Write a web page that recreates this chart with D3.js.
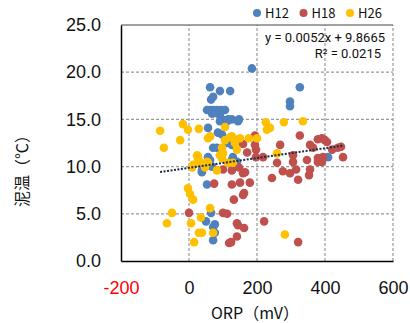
<!DOCTYPE html>
<html>
<head>
<meta charset="utf-8">
<script src="https://cdn.jsdelivr.net/npm/d3@7"></script>
<style>
  body { margin: 0; background: #fff; }
  svg { font-family: "Noto Sans CJK JP", "Noto Sans", sans-serif; }
</style>
</head>
<body>
<div id="chart"></div>
<script>
// ORP (mV) / mud temperature (°C) pairs per survey year
const seriesNames = ['H12', 'H18', 'H26'];
const seriesColors = ['#4f81bd', '#c0504d', '#ffc000'];

const h12 = [
  [185, 20.4], [62, 18.4], [91, 18.0], [121, 18.0], [71, 17.4], [65, 17.1],
  [326, 18.4], [297, 16.9], [297, 16.4],
  [53, 16.0], [62, 16.0], [71, 16.0], [82, 16.0], [94, 16.0], [106, 16.0],
  [91, 15.5], [68, 15.6], [85, 15.6], [97, 15.0], [115, 15.0], [126, 15.0], [147, 15.0],
  [56, 14.1], [91, 14.8], [112, 14.8], [144, 14.8], [85, 13.6], [97, 13.4],
  [112, 12.5], [141, 12.8], [135, 12.5], [126, 12.3], [71, 12.0], [82, 12.0],
  [56, 11.0], [62, 10.7], [129, 11.0], [141, 10.5], [126, 10.7],
  [38, 9.6], [38, 9.4], [68, 10.0], [53, 8.1],
  [65, 5.1], [50, 4.2], [76, 3.9], [71, 3.6], [76, 3.0], [71, 2.2],
  [409, 11.0]
];

const h18 = [
  [194, 13.3], [326, 13.3], [159, 12.4], [194, 12.3], [268, 12.3], [356, 12.3],
  [365, 12.0], [379, 12.9], [391, 13.0], [400, 12.8], [406, 12.6], [421, 11.8],
  [438, 12.0], [447, 12.1], [171, 11.5], [197, 11.8], [218, 11.0], [197, 11.0],
  [306, 11.2], [306, 10.5], [347, 10.7], [379, 10.9], [394, 11.0], [391, 10.5],
  [379, 10.5], [453, 11.0], [259, 10.4], [165, 9.4], [159, 9.3], [276, 9.5],
  [297, 9.3], [315, 9.7], [356, 9.7], [353, 9.1], [321, 8.6], [244, 8.8],
  [126, 8.1], [150, 8.3], [179, 8.3], [74, 8.2], [100, 9.7], [126, 9.6],
  [147, 9.9], [162, 7.2], [159, 7.0], [132, 6.5], [100, 5.1], [112, 5.0],
  [0, 5.1], [141, 4.0], [144, 3.8], [162, 3.5], [141, 2.6], [124, 2.0],
  [118, 1.9], [221, 4.2], [321, 2.0]
];

const h26 = [
  [-85, 13.8], [-18, 14.5], [-3, 13.9], [29, 14.0], [-26, 12.8], [-74, 12.0],
  [26, 11.1], [106, 14.2], [62, 13.2], [56, 13.0], [121, 13.1], [126, 13.2],
  [106, 12.8], [135, 12.5], [97, 12.0], [100, 11.4], [141, 11.8], [24, 11.2],
  [26, 10.9], [32, 10.5], [91, 11.2], [97, 10.9], [53, 10.5], [56, 10.4],
  [115, 10.4], [129, 10.4], [12, 10.2], [9, 9.9], [47, 9.9], [82, 9.6],
  [150, 13.0], [176, 13.0], [200, 13.0], [226, 14.7], [238, 14.1], [229, 13.9],
  [279, 14.7], [335, 14.8], [259, 11.4],
  [-3, 7.7], [3, 7.1], [12, 6.5], [-50, 5.1], [-65, 4.0], [6, 4.0], [35, 4.6],
  [29, 3.0], [38, 3.0], [71, 3.0], [15, 2.0], [62, 5.6], [282, 2.8]
];

const seriesData = [h12, h18, h26];

// linear trendline shown on the chart (slope, intercept) and its labels
const trend = [0.0052, 9.8665];
const trendLabels = ['y = 0.0052x + 9.8665', 'R² = 0.0215'];

const xTicks = [-200, 0, 200, 400, 600];
const yTicks = [0, 5, 10, 15, 20, 25];

const width = 410;
const height = 323;
const margin = { top: 25, right: 17, bottom: 62, left: 121 };

const svg = d3.select('#chart')
  .append('svg')
  .attr('width', width)
  .attr('height', height);

const x = d3.scaleLinear().domain([-200, 600]).range([margin.left, width - margin.right]);
const y = d3.scaleLinear().domain([0, 25]).range([height - margin.bottom, margin.top]);

// dashed grid (top edge drawn solid below)
svg.append('g')
  .selectAll('line')
  .data(yTicks.filter(d => d > 0 && d < 25))
  .join('line')
  .attr('x1', x(-200)).attr('x2', x(600))
  .attr('y1', d => y(d)).attr('y2', d => y(d))
  .attr('stroke', '#999').attr('stroke-width', 1.2).attr('stroke-dasharray', '3,2');

svg.append('g')
  .selectAll('line')
  .data(xTicks.filter(d => d > -200))
  .join('line')
  .attr('x1', d => x(d)).attr('x2', d => x(d))
  .attr('y1', y(0)).attr('y2', y(25))
  .attr('stroke', '#999').attr('stroke-width', 1.2).attr('stroke-dasharray', '3,2');

svg.append('line')
  .attr('x1', x(-200)).attr('x2', x(600))
  .attr('y1', y(25)).attr('y2', y(25))
  .attr('stroke', '#444').attr('stroke-width', 1);

// axes
const yAxis = svg.append('g')
  .attr('transform', `translate(${margin.left},0)`)
  .call(d3.axisLeft(y).tickValues(yTicks).tickFormat(d3.format('.1f')).tickSize(0).tickPadding(20));

const xAxis = svg.append('g')
  .attr('transform', `translate(0,${height - margin.bottom})`)
  .call(d3.axisBottom(x).tickValues(xTicks).tickFormat(d => d).tickSize(0).tickPadding(20));

[xAxis, yAxis].forEach(g => {
  g.select('.domain').attr('stroke', '#000').attr('stroke-width', 1.5);
  g.selectAll('text').attr('font-size', 18).attr('fill', '#111');
});
xAxis.selectAll('text').attr('fill', d => d < 0 ? '#ff0000' : '#111');

// points
seriesData.forEach((data, i) => {
  svg.append('g')
    .selectAll('circle')
    .data(data)
    .join('circle')
    .attr('cx', d => x(d[0]))
    .attr('cy', d => y(d[1]))
    .attr('r', 4.3)
    .attr('fill', seriesColors[i]);
});

// trendline over the range of all points
const allX = seriesData.flat().map(d => d[0]);
const xExtent = d3.extent(allX);
svg.append('line')
  .attr('x1', x(xExtent[0])).attr('y1', y(trend[0] * xExtent[0] + trend[1]))
  .attr('x2', x(xExtent[1])).attr('y2', y(trend[0] * xExtent[1] + trend[1]))
  .attr('stroke', '#1f2a44').attr('stroke-width', 2).attr('stroke-dasharray', '2,1.5');

svg.append('g')
  .selectAll('text')
  .data(trendLabels)
  .join('text')
  .attr('x', (d, i) => i === 0 ? 385 : 381)
  .attr('y', (d, i) => 42 + i * 16)
  .attr('text-anchor', 'end')
  .attr('font-family', 'Roboto, sans-serif')
  .attr('font-size', 13)
  .attr('fill', '#111')
  .text(d => d);

// legend
const legend = svg.append('g')
  .selectAll('g')
  .data(seriesNames)
  .join('g')
  .attr('transform', (d, i) => `translate(${257 + i * 46.5},13)`);

legend.append('circle')
  .attr('r', 4)
  .attr('fill', (d, i) => seriesColors[i]);

legend.append('text')
  .attr('x', 8)
  .attr('y', 5)
  .attr('font-size', 13)
  .attr('fill', '#111')
  .text(d => d);

// axis titles
svg.append('text')
  .attr('x', 255)
  .attr('y', 319)
  .attr('text-anchor', 'middle')
  .attr('font-size', 16)
  .attr('fill', '#111')
  .text('ORP（mV）');

svg.append('text')
  .attr('transform', 'translate(28,167) rotate(-90)')
  .attr('text-anchor', 'middle')
  .attr('font-size', 16)
  .attr('fill', '#111')
  .text('泥温（℃）');
</script>
</body>
</html>
